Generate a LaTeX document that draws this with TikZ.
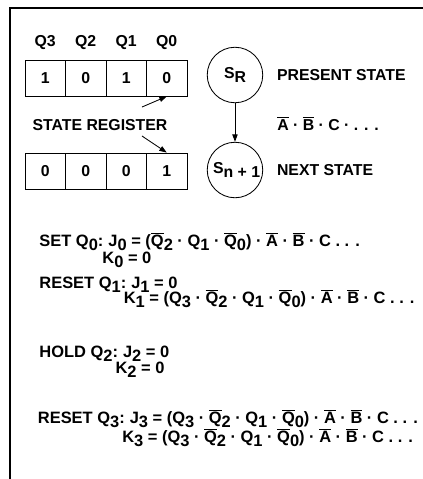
\documentclass[tikz,border=0pt]{standalone}
\usepackage{fontspec}
\setmainfont{Liberation Sans}
\usetikzlibrary{arrows.meta,positioning}

% lowered index and bar over a letter
\newcommand{\lo}[1]{\raisebox{-0.45ex}{#1}}
\newcommand{\nt}[1]{\vbox{\hrule height 1.1pt\kern 1.2pt\hbox{#1}}}

\tikzset{
  cell/.style={draw, minimum width=1.35cm, minimum height=1.2cm, inner sep=0pt},
  state/.style={draw, circle, minimum size=1.85cm, inner sep=0pt},
  eqn/.style={anchor=base west, inner sep=0pt, font=\fontsize{15.6}{18}\selectfont\bfseries},
  tip/.style={-{Triangle[length=7pt,width=5pt]}},
}

\begin{document}
\begin{tikzpicture}[font=\fontsize{15}{18}\selectfont\bfseries, line width=0.8pt]
\useasboundingbox (0,0) rectangle (14.1,-15.967);

% Frame
\draw[line width=1.8pt] (14.1,-0.267) -- (0.333,-0.267) -- (0.333,-15.967);

% Present register
\node (q3) at (1.508,-1.433) {Q3};
\node (q2) at (2.858,-1.433) {Q2};
\node (q1) at (4.208,-1.433) {Q1};
\node (q0) at (5.558,-1.433) {Q0};
\node[cell] (a3) at (1.508,-2.6) {1};
\node[cell] (a2) at (2.858,-2.6) {0};
\node[cell] (a1) at (4.208,-2.6) {1};
\node[cell] (a0) at (5.558,-2.6) {0};

% Next register
\node[cell] (b3) at (1.508,-5.7) {0};
\node[cell] (b2) at (2.858,-5.7) {0};
\node[cell] (b1) at (4.208,-5.7) {0};
\node[cell] (b0) at (5.558,-5.7) {1};

\node (reg) at (3.333,-4.167) {STATE REGISTER};
\coordinate (up) at (4.733,-3.567);
\coordinate (dn) at (4.733,-4.533);
\draw[tip] (up) -- (a0.south);
\draw[tip] (dn) -- (b0.north);

% States
\node[state] (sr) at (7.833,-2.5) {S\lo{R}};
\node[state] (sn) at (7.833,-5.667) {\hspace{3pt}S\lo{n + 1}};
\draw[tip] (sr) -- (sn);

\node[right=0.45cm of sr, inner sep=0pt] (present) {PRESENT STATE};
\node[anchor=west, inner sep=0pt] (cond) at (9.233,-4.133) {\nt{A} · \nt{B} · C · . . .};
\node[right=0.45cm of sn, inner sep=0pt] (next) {NEXT STATE};

% Equations
\node[eqn] (set0) at (1.3,-8.22) {SET Q\lo{0}:};
\node[eqn] (j0) at ([xshift=4pt]set0.base east) {J\lo{0} = (\nt{Q}\lo{2} · Q\lo{1} · \nt{Q}\lo{0}) · \nt{A} · \nt{B} · C . . .};
\node[eqn] (k0) at ([xshift=-0.2cm,yshift=-0.56cm]j0.base west) {K\lo{0} = 0};

\node[eqn] (res1) at (1.3,-9.62) {RESET Q\lo{1}:};
\node[eqn] (j1) at ([xshift=4pt]res1.base east) {J\lo{1} = 0};
\node[eqn] (k1) at ([xshift=-0.25cm,yshift=-0.5cm]j1.base west) {K\lo{1} = (Q\lo{3} · \nt{Q}\lo{2} · Q\lo{1} · \nt{Q}\lo{0}) · \nt{A} · \nt{B} · C . . .};

\node[eqn] (hold2) at (1.3,-11.92) {HOLD Q\lo{2}:};
\node[eqn] (j2) at ([xshift=4pt]hold2.base east) {J\lo{2} = 0};
\node[eqn] (k2) at ([xshift=-0.25cm,yshift=-0.52cm]j2.base west) {K\lo{2} = 0};

\node[eqn] (res3) at (1.25,-14.12) {RESET Q\lo{3}:};
\node[eqn] (j3) at ([xshift=4pt]res3.base east) {J\lo{3} = (Q\lo{3} · \nt{Q}\lo{2} · Q\lo{1} · \nt{Q}\lo{0}) · \nt{A} · \nt{B} · C . . .};
\node[eqn] (k3) at ([xshift=-0.25cm,yshift=-0.64cm]j3.base west) {K\lo{3} = (Q\lo{3} · \nt{Q}\lo{2} · Q\lo{1} · \nt{Q}\lo{0}) · \nt{A} · \nt{B} · C . . .};
\end{tikzpicture}
\end{document}
